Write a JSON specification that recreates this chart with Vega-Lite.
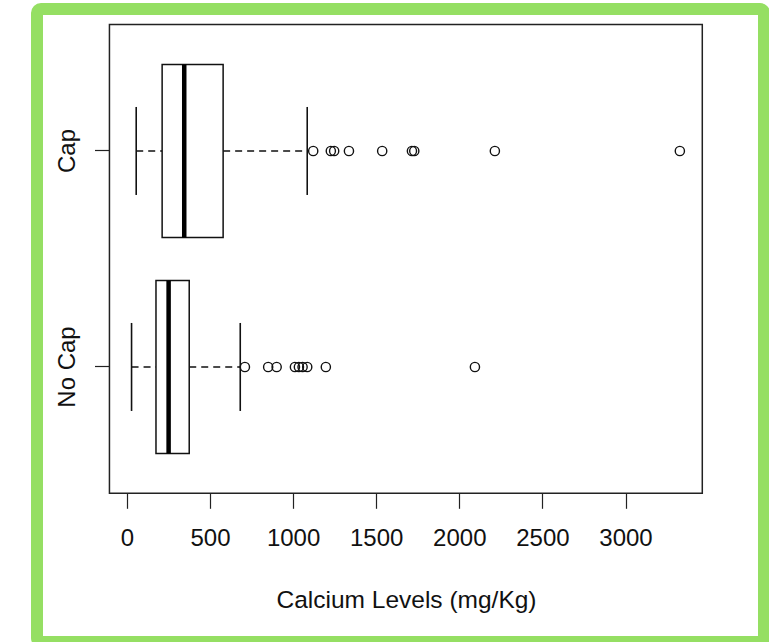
{
  "$schema": "https://vega.github.io/schema/vega-lite/v6.json",
  "width": 727,
  "height": 633,
  "autosize": {"type": "none"},
  "padding": {"left": 37, "top": 9, "right": 5, "bottom": 0},
  "background": "white",
  "config": {
    "font": "Liberation Sans",
    "view": {"stroke": "#95df63", "strokeWidth": 12, "fill": "white", "cornerRadius": 4}
  },
  "datasets": {
    "stats": [
      {"group": "Cap", "lower": 56, "q1": 212, "median": 345, "q3": 579, "upper": 1085},
      {"group": "No Cap", "lower": 28, "q1": 175, "median": 251, "q3": 375, "upper": 682}
    ],
    "outliers": [
      {"group": "Cap", "value": 1121},
      {"group": "Cap", "value": 1227},
      {"group": "Cap", "value": 1247},
      {"group": "Cap", "value": 1336},
      {"group": "Cap", "value": 1536},
      {"group": "Cap", "value": 1715},
      {"group": "Cap", "value": 1729},
      {"group": "Cap", "value": 2214},
      {"group": "Cap", "value": 3327},
      {"group": "No Cap", "value": 710},
      {"group": "No Cap", "value": 850},
      {"group": "No Cap", "value": 901},
      {"group": "No Cap", "value": 1011},
      {"group": "No Cap", "value": 1035},
      {"group": "No Cap", "value": 1057},
      {"group": "No Cap", "value": 1085},
      {"group": "No Cap", "value": 1197},
      {"group": "No Cap", "value": 2094}
    ]
  },
  "resolve": {"scale": {"y": "independent"}},
  "layer": [
    {
      "data": {"values": [{}]},
      "mark": {"type": "rect", "fill": null, "fillOpacity": 0, "stroke": "#222", "strokeWidth": 1.5},
      "encoding": {
        "x": {
          "datum": -105,
          "type": "quantitative",
          "scale": {"domain": [-540.9, 3833.3], "nice": false, "zero": false},
          "axis": {
            "values": [0, 500, 1000, 1500, 2000, 2500, 3000],
            "format": "d",
            "offset": -148.7,
            "domain": false,
            "grid": false,
            "tickSize": 15,
            "tickColor": "#222",
            "tickWidth": 1.2,
            "labelFontSize": 24,
            "labelColor": "#111",
            "labelPadding": 18,
            "labelFlush": false,
            "labelOverlap": false,
            "title": "Calcium Levels (mg/Kg)",
            "titleFontSize": 24.5,
            "titleFontWeight": "normal",
            "titleColor": "#111",
            "titlePadding": 38,
            "titleX": 369,
            "titleAlign": "center"
          }
        },
        "x2": {"datum": 3462},
        "y": {"datum": 0.415, "type": "quantitative", "scale": {"domain": [-0.273, 2.657], "nice": false, "zero": false}, "axis": null},
        "y2": {"datum": 2.585}
      }
    },
    {
      "encoding": {
        "y": {
          "field": "group",
          "type": "nominal",
          "scale": {"domain": ["Cap", "No Cap"], "paddingInner": 0, "paddingOuter": 0.4653, "align": 0.169},
          "axis": {
            "title": null,
            "offset": -72.5,
            "domain": false,
            "tickSize": 15,
            "tickColor": "#222",
            "tickWidth": 1.2,
            "labelAngle": 270,
            "labelAlign": "center",
            "labelBaseline": "bottom",
            "labelPadding": 15,
            "labelFontSize": 24,
            "labelColor": "#111"
          }
        }
      },
      "layer": [
        {
          "data": {"name": "stats"},
          "mark": {"type": "rule", "stroke": "#111", "strokeWidth": 1.6, "strokeDash": [7, 5]},
          "encoding": {
            "x": {"field": "lower", "type": "quantitative"},
            "x2": {"field": "q1"}
          }
        },
        {
          "data": {"name": "stats"},
          "mark": {"type": "rule", "stroke": "#111", "strokeWidth": 1.6, "strokeDash": [7, 5]},
          "encoding": {
            "x": {"field": "q3", "type": "quantitative"},
            "x2": {"field": "upper"}
          }
        },
        {
          "data": {"name": "stats"},
          "mark": {"type": "tick", "color": "#111", "opacity": 1, "size": 88, "thickness": 1.6},
          "encoding": {"x": {"field": "lower", "type": "quantitative"}}
        },
        {
          "data": {"name": "stats"},
          "mark": {"type": "tick", "color": "#111", "opacity": 1, "size": 88, "thickness": 1.6},
          "encoding": {"x": {"field": "upper", "type": "quantitative"}}
        },
        {
          "data": {"name": "stats"},
          "mark": {"type": "bar", "size": 173, "fill": "white", "stroke": "#111", "strokeWidth": 1.5, "opacity": 1},
          "encoding": {
            "x": {"field": "q1", "type": "quantitative"},
            "x2": {"field": "q3"}
          }
        },
        {
          "data": {"name": "stats"},
          "mark": {"type": "tick", "color": "#000", "opacity": 1, "size": 173, "thickness": 4.5},
          "encoding": {"x": {"field": "median", "type": "quantitative"}}
        },
        {
          "data": {"name": "outliers"},
          "mark": {"type": "point", "shape": "circle", "filled": false, "stroke": "#111", "strokeWidth": 1.4, "size": 85, "opacity": 1},
          "encoding": {"x": {"field": "value", "type": "quantitative"}}
        }
      ]
    }
  ]
}
